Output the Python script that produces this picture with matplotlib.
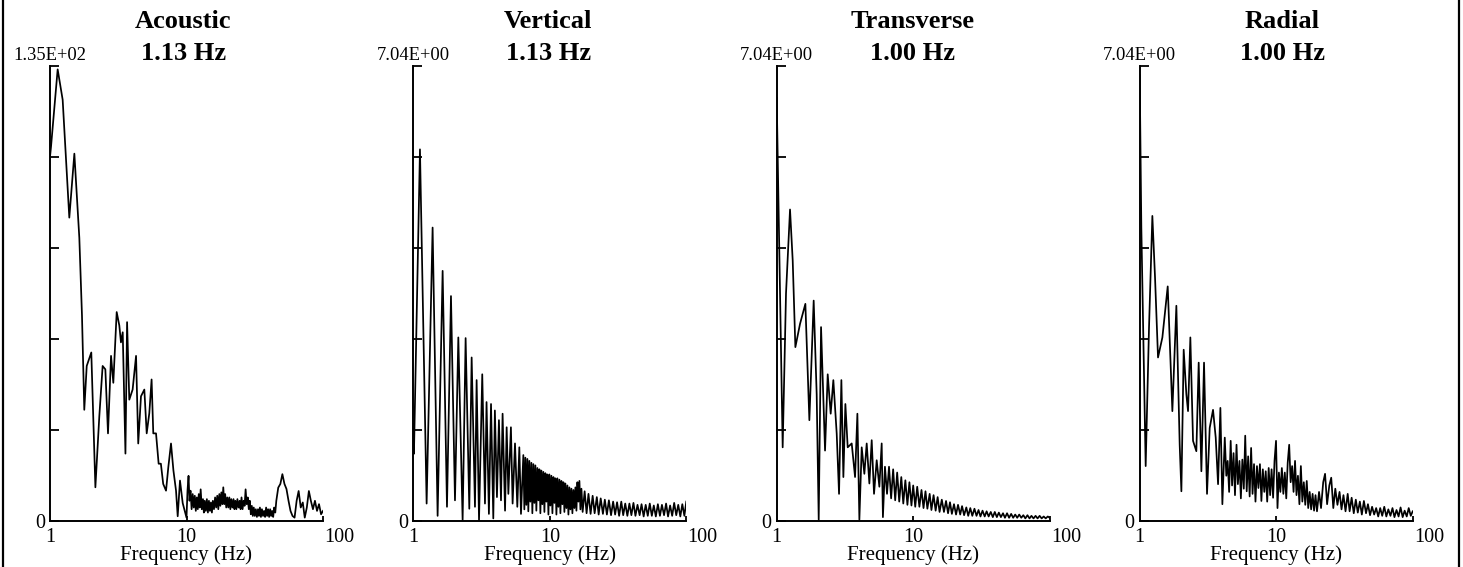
import matplotlib
matplotlib.use("Agg")
import matplotlib.pyplot as plt
from matplotlib.lines import Line2D
from matplotlib.ticker import NullLocator

plt.rcParams['font.family'] = ['Liberation Serif', 'DejaVu Serif']

# ---------------- data ----------------
panel_names = ["Acoustic", "Vertical", "Transverse", "Radial"]
peak_labels = ["1.13 Hz", "1.13 Hz", "1.00 Hz", "1.00 Hz"]
scale_max = [135.0, 7.04, 7.04, 7.04]
scale_labels = ["1.35E+02", "7.04E+00", "7.04E+00", "7.04E+00"]
xtick_values = [1, 10, 100]
xtick_labels = ["1", "10", "100"]
xlabel_text = "Frequency (Hz)"

# frequency samples read in the densely oscillating 10-100 Hz range
fine_freq = [10.0, 10.35, 10.7, 11.1, 11.5, 11.9, 12.3, 12.7, 13.2, 13.6,
             14.1, 14.6, 15.1, 15.6, 16.2, 16.8, 17.4, 18.0, 18.6, 19.2,
             19.9, 20.6, 21.3, 22.1, 22.8, 23.6, 24.5, 25.3, 26.2, 27.1,
             28.1, 29.1, 30.1, 31.1, 32.2, 33.4, 34.5, 35.7, 37.0, 38.3,
             39.6, 41.0, 42.4, 43.9, 45.5, 47.0, 48.7, 50.4, 52.2, 54.0,
             55.9, 57.8, 59.8, 61.9, 64.1, 66.3, 68.7, 71.1, 73.5, 76.1,
             78.8, 81.5, 84.4, 87.3, 90.4, 93.5, 96.8, 100.0]

# Acoustic
acoustic_freq_low = [1.0, 1.017, 1.138, 1.238, 1.385, 1.508, 1.64, 1.715, 1.783, 1.858,
                     2.007, 2.15, 2.297, 2.43, 2.544, 2.66, 2.80, 2.91, 3.08, 3.22,
                     3.31, 3.41, 3.57, 3.67, 3.81, 4.03, 4.27, 4.43, 4.64, 4.91,
                     5.11, 5.34, 5.55, 5.71, 5.98, 6.25, 6.49, 6.75, 7.08, 7.36,
                     7.70, 8.02, 8.38, 8.62, 8.96, 9.38]
acoustic_amp_low = [108, 111, 134, 125, 90, 109, 84, 61, 33, 46,
                    50, 10, 31, 46, 45, 26, 49, 41, 62, 58,
                    53, 56, 20, 59, 36, 39, 49, 23, 37, 39,
                    26, 32, 42, 26, 26, 17, 17, 11, 9, 16,
                    23, 15, 9, 1.4, 12, 5.3]
acoustic_freq_mid = [10.0, 10.17, 10.35, 10.52, 10.7, 10.9, 11.1, 11.3, 11.5, 11.7,
                     11.9, 12.1, 12.3, 12.5, 12.7, 12.95, 13.2, 13.4, 13.6, 13.85,
                     14.1, 14.35, 14.6, 14.85, 15.1, 15.35, 15.6, 15.9, 16.2, 16.5,
                     16.8, 17.1, 17.4, 17.7, 18.0, 18.3, 18.6, 18.9, 19.2, 19.55,
                     19.9, 20.25, 20.6, 20.95, 21.3, 21.7, 22.1, 22.45, 22.8, 23.2,
                     23.6, 24.05, 24.5, 24.9, 25.3, 25.75, 26.2, 26.65, 27.1, 27.6,
                     28.1, 28.6, 29.1, 29.6, 30.1, 30.6, 31.1, 31.65, 32.2, 32.8,
                     33.4, 33.95, 34.5, 35.1, 35.7, 36.35, 37.0, 37.65, 38.3, 38.95,
                     39.6, 40.3, 41.0, 41.7, 42.4, 43.15, 43.9, 44.7, 45.5]
acoustic_amp_mid = [1.0, 9.0, 13.4, 6.0, 9.0, 3.5, 8.0, 4.0, 7.5, 3.0,
                    7.0, 3.5, 8.0, 4.0, 9.4, 3.5, 6.5, 2.5, 6.0, 3.0,
                    6.5, 2.5, 6.0, 3.0, 5.5, 2.5, 6.0, 3.5, 7.0, 4.0,
                    7.5, 3.5, 8.0, 4.5, 8.5, 5.0, 10.0, 5.0, 8.0, 4.0,
                    7.0, 4.0, 7.0, 3.5, 6.5, 4.0, 6.5, 3.5, 6.0, 3.5,
                    6.5, 4.0, 6.0, 3.5, 7.0, 3.5, 6.0, 4.5, 9.4, 5.0,
                    7.0, 3.5, 6.0, 2.0, 4.5, 1.5, 4.0, 1.5, 3.5, 1.2,
                    3.5, 1.5, 4.0, 1.2, 3.5, 1.5, 3.0, 1.2, 4.0, 1.5,
                    3.5, 1.2, 3.5, 1.5, 3.0, 1.2, 4.0, 2.5, 6.0]
acoustic_amp_high = [9.9, 11.0, 13.9, 11.0, 9.5, 6.0, 3.0, 1.5, 1.0, 6.0,
                     8.9, 4.0, 5.5, 1.0, 4.0, 8.9, 6.0, 3.5, 6.0, 3.0,
                     5.0, 2.0, 3.0]

# Vertical
vertical_freq_low = [1.0, 1.011, 1.119, 1.252, 1.385, 1.507, 1.64, 1.765, 1.888, 2.02,
                     2.137, 2.298, 2.417, 2.572, 2.676, 2.83, 2.91, 3.03, 3.20, 3.35,
                     3.44, 3.58, 3.71, 3.855, 3.96, 4.10, 4.24, 4.39, 4.51, 4.70,
                     4.83, 4.97, 5.19, 5.34, 5.56, 5.78, 5.98, 6.15]
vertical_amp_low = [1.5, 1.04, 5.75, 0.27, 4.54, 0.08, 3.87, 0.22, 3.48, 0.32,
                    2.84, 0.01, 2.83, 0.19, 2.53, 0.22, 2.18, 0.01, 2.27, 0.27,
                    1.84, 0.11, 1.81, 0.04, 1.71, 0.37, 1.56, 0.32, 1.66, 0.16,
                    1.45, 0.42, 1.45, 0.27, 1.20, 0.22, 1.14, 0.11]
vertical_freq_mid = [6.4, 6.51, 6.62, 6.73, 6.85, 6.96, 7.08, 7.2, 7.33, 7.45,
                     7.58, 7.71, 7.84, 7.97, 8.11, 8.25, 8.39, 8.53, 8.68, 8.82,
                     8.97, 9.13, 9.28, 9.44, 9.6, 9.77, 9.93, 10.1, 10.27, 10.45,
                     10.63, 10.81, 10.99, 11.18, 11.37, 11.56, 11.76, 11.96, 12.16, 12.37,
                     12.58, 12.79, 13.01, 13.23, 13.46, 13.69, 13.92, 14.16, 14.4, 14.64,
                     14.89, 15.15, 15.4, 15.67, 15.93, 16.2, 16.48, 16.76, 17.05]
vertical_amp_mid = [1.02, 0.18, 0.98, 0.25, 0.96, 0.15, 0.93, 0.30, 0.90, 0.12,
                    0.88, 0.28, 0.86, 0.16, 0.82, 0.32, 0.80, 0.12, 0.78, 0.26,
                    0.76, 0.14, 0.74, 0.30, 0.72, 0.10, 0.72, 0.24, 0.70, 0.12,
                    0.68, 0.28, 0.66, 0.10, 0.66, 0.22, 0.64, 0.12, 0.62, 0.26,
                    0.60, 0.14, 0.58, 0.20, 0.55, 0.10, 0.52, 0.18, 0.50, 0.12,
                    0.48, 0.20, 0.52, 0.16, 0.60, 0.30, 0.62, 0.18, 0.50]
vertical_amp_high = [0.14, 0.46, 0.12, 0.42, 0.11, 0.39, 0.12, 0.37, 0.10, 0.35,
                     0.11, 0.33, 0.10, 0.32, 0.09, 0.30, 0.10, 0.29, 0.08, 0.30,
                     0.09, 0.27, 0.08, 0.27, 0.09, 0.28, 0.08, 0.25, 0.09, 0.26,
                     0.07, 0.25, 0.08, 0.27, 0.08, 0.24, 0.07, 0.26, 0.08, 0.25,
                     0.09, 0.27, 0.07, 0.24, 0.08, 0.28, 0.09, 0.25, 0.07, 0.26,
                     0.08, 0.30]

# Transverse
transverse_freq_low = [1.0, 1.028, 1.106, 1.170, 1.252, 1.31, 1.37, 1.482, 1.622, 1.735,
                       1.866, 1.963, 2.031, 2.113, 2.26, 2.364, 2.486, 2.60, 2.752, 2.862,
                       2.977, 3.079, 3.185, 3.312, 3.544, 3.75, 3.90, 4.033, 4.195, 4.387,
                       4.564, 4.774, 4.966, 5.164, 5.402, 5.65, 5.877,
                       6.0, 6.21, 6.43, 6.65, 6.89, 7.13, 7.38, 7.63, 7.9, 8.18,
                       8.46, 8.76, 9.07, 9.38, 9.71]
transverse_amp_low = [6.55, 5.06, 1.14, 3.52, 4.82, 4.03, 2.69, 3.05, 3.36, 1.56,
                      3.41, 1.96, 0.02, 3.00, 1.09, 2.27, 1.66, 2.18, 1.35, 0.42,
                      2.18, 0.68, 1.81, 1.14, 1.20, 0.68, 1.66, 0.02, 1.14, 0.73,
                      1.20, 0.58, 1.25, 0.42, 0.94, 0.53, 1.20,
                      0.06, 0.84, 0.42, 0.84, 0.35, 0.80, 0.32, 0.75, 0.30, 0.68,
                      0.27, 0.63, 0.25, 0.60, 0.24]
transverse_amp_high = [0.55, 0.22, 0.53, 0.22, 0.48, 0.20, 0.46, 0.19, 0.42, 0.17,
                       0.40, 0.16, 0.37, 0.14, 0.33, 0.14, 0.31, 0.12, 0.29, 0.11,
                       0.26, 0.10, 0.25, 0.10, 0.23, 0.09, 0.21, 0.08, 0.20, 0.08,
                       0.19, 0.08, 0.17, 0.07, 0.16, 0.07, 0.15, 0.07, 0.14, 0.06,
                       0.14, 0.06, 0.13, 0.06, 0.12, 0.05, 0.12, 0.05, 0.11, 0.05,
                       0.10, 0.05, 0.10, 0.05, 0.09, 0.04, 0.09, 0.04, 0.08, 0.04,
                       0.08, 0.04, 0.08, 0.04, 0.07, 0.04, 0.07, 0.05]

# Radial
radial_freq_low = [1.0, 1.028, 1.106, 1.17, 1.238, 1.295, 1.362, 1.466, 1.604, 1.735,
                   1.856, 1.963, 2.02, 2.10, 2.197, 2.26, 2.35, 2.459, 2.60, 2.705,
                   2.83, 2.96, 3.113, 3.257, 3.445, 3.605, 3.75, 3.90, 4.033]
radial_amp_low = [6.90, 4.54, 0.85, 2.99, 4.72, 3.77, 2.53, 2.84, 3.63, 1.70,
                  3.33, 1.18, 0.46, 2.65, 1.96, 1.70, 2.84, 1.24, 1.08, 2.45,
                  0.77, 2.45, 0.42, 1.44, 1.72, 1.29, 0.57, 1.75, 0.26]
radial_freq_mid = [4.2, 4.31, 4.41, 4.52, 4.64, 4.75, 4.87, 4.99, 5.12, 5.24,
                   5.38, 5.51, 5.65, 5.79, 5.93, 6.08, 6.23, 6.39, 6.55, 6.71,
                   6.88, 7.05, 7.23, 7.41, 7.6, 7.79, 7.98, 8.18, 8.38, 8.59,
                   8.81, 9.03, 9.25, 9.49, 9.72, 9.97, 10.22, 10.47, 10.73, 11.0,
                   11.28, 11.56, 11.85, 12.14, 12.45, 12.76, 13.08, 13.4, 13.74, 14.08,
                   14.43, 14.79, 15.16, 15.54, 15.93, 16.33, 16.74, 17.16, 17.59, 18.03,
                   18.48, 18.94, 19.41]
radial_amp_mid = [1.29, 0.70, 0.93, 0.45, 1.24, 0.55, 1.05, 0.40, 1.18, 0.57,
                  0.93, 0.35, 0.95, 0.50, 1.32, 0.46, 1.00, 0.38, 1.13, 0.42,
                  0.88, 0.30, 0.85, 0.51, 0.88, 0.31, 0.80, 0.45, 0.77, 0.30,
                  0.82, 0.40, 0.80, 0.36, 0.93, 1.24, 0.20, 0.75, 0.45, 0.82,
                  0.42, 0.75, 0.35, 0.90, 1.18, 0.60, 0.85, 0.45, 0.93, 0.40,
                  0.70, 0.26, 0.85, 0.30, 0.60, 0.25, 0.62, 0.20, 0.45, 0.18,
                  0.42, 0.16, 0.40]
radial_amp_high = [0.15, 0.45, 0.20, 0.60, 0.73, 0.26, 0.55, 0.67, 0.20, 0.50,
                   0.25, 0.45, 0.18, 0.40, 0.15, 0.42, 0.15, 0.36, 0.12, 0.33,
                   0.13, 0.30, 0.10, 0.31, 0.12, 0.26, 0.09, 0.22, 0.10, 0.20,
                   0.07, 0.20, 0.08, 0.22, 0.07, 0.18, 0.08, 0.20, 0.06, 0.17,
                   0.07, 0.21, 0.06, 0.16, 0.07, 0.20, 0.08, 0.15]

freqs = [acoustic_freq_low + acoustic_freq_mid + fine_freq[45:],
         vertical_freq_low + vertical_freq_mid + fine_freq[16:],
         transverse_freq_low + fine_freq,
         radial_freq_low + radial_freq_mid + fine_freq[20:]]
amps = [acoustic_amp_low + acoustic_amp_mid + acoustic_amp_high,
        vertical_amp_low + vertical_amp_mid + vertical_amp_high,
        transverse_amp_low + transverse_amp_high,
        radial_amp_low + radial_amp_mid + radial_amp_high]

# ---------------- layout ----------------
W, H = 1463, 567
fig = plt.figure(figsize=(W / 100, H / 100), dpi=100)
lefts_px = [50, 413.3, 776.7, 1139.7]
ax_w_px, ax_h_px = 273, 455
bottom_px = 521
header_x = [0.488, 0.494, 0.498, 0.522]

for i in range(4):
    ax = fig.add_axes([lefts_px[i] / W, (H - bottom_px) / H, ax_w_px / W, ax_h_px / H])
    ax.plot(freqs[i], amps[i], color='black', lw=1.25)
    ax.set_xscale('log')
    ax.set_xlim(xtick_values[0], xtick_values[-1])
    ax.set_ylim(0, scale_max[i])
    ax.patch.set_alpha(0)
    for s in ['top', 'right']:
        ax.spines[s].set_visible(False)
    for s in ['left', 'bottom']:
        ax.spines[s].set_linewidth(1.4)

    ax.set_yticks([scale_max[i] * k / 5 for k in range(6)])
    ax.set_yticklabels([])
    ax.tick_params(axis='y', direction='in', length=6.5, width=1.3)
    ax.set_xticks(xtick_values[1:])
    ax.set_xticklabels([])
    ax.xaxis.set_minor_locator(NullLocator())
    ax.tick_params(axis='x', direction='in', length=3.5, width=1.3)

    xt = ax.get_xaxis_transform()
    for v, lab in zip(xtick_values, xtick_labels):
        if v == xtick_values[-1]:
            ax.text(v * 1.02, -21 / ax_h_px, lab, transform=xt, ha='left', va='baseline', fontsize=14.5)
        else:
            ax.text(v, -21 / ax_h_px, lab, transform=xt, ha='center', va='baseline', fontsize=14.5)
    ax.text(0.5, -39 / ax_h_px, xlabel_text, transform=ax.transAxes, ha='center', va='baseline', fontsize=15)
    ax.text(-5 / ax_w_px, -7 / ax_h_px, "0", transform=ax.transAxes, ha='right', va='baseline', fontsize=14.5)
    ax.text(0.0, 1 + 6 / ax_h_px, scale_labels[i], transform=ax.transAxes, ha='center', va='baseline', fontsize=13.3)
    ax.text(header_x[i], 1 + 6 / ax_h_px, peak_labels[i], transform=ax.transAxes, ha='center', va='baseline',
            fontsize=19, fontweight='bold')
    ax.text(header_x[i], 1 + 38 / ax_h_px, panel_names[i], transform=ax.transAxes, ha='center', va='baseline',
            fontsize=19, fontweight='bold')

# figure frame (left and right edges)
fig.add_artist(Line2D([3 / W, 3 / W], [0, 1], transform=fig.transFigure, color='black', lw=1.6))
fig.add_artist(Line2D([1459 / W, 1459 / W], [0, 1], transform=fig.transFigure, color='black', lw=1.6))

fig.savefig("out.png", dpi=100)
